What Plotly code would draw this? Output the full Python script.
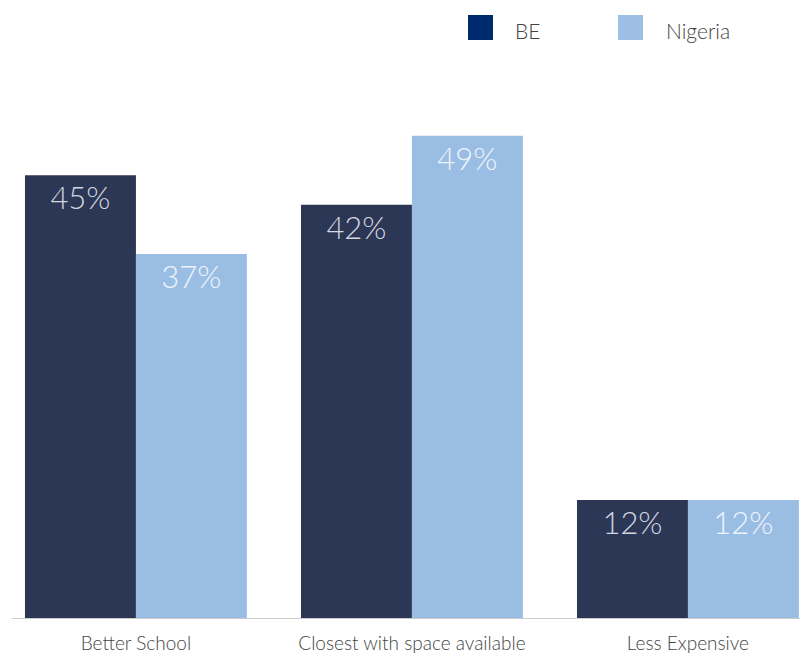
import plotly.graph_objects as go

categories = ["Better School", "Closest with space available", "Less Expensive"]
be_values = [45, 42, 12]
nigeria_values = [37, 49, 12]
series_names = ["BE", "Nigeria"]

bar_colors = ["#2c3655", "#9abde3"]
legend_colors = ["#002a6e", "#9dbfe4"]
text_colors = ["#d3d7e0", "#eef4fb"]

fig = go.Figure()
for name, vals, col, tcol in zip(series_names, [be_values, nigeria_values], bar_colors, text_colors):
    fig.add_trace(go.Bar(
        x=categories, y=vals, name=name,
        marker=dict(color=col, line=dict(width=0)),
        text=[f"{v}%" for v in vals],
        textposition="inside", insidetextanchor="end",
        textfont=dict(family="Lato", size=31, color=tcol, weight=300),
        constraintext="none", textangle=0,
        showlegend=False, hoverinfo="skip",
    ))

# Legend drawn manually (paper coordinates)
W, H = 800, 653
ml, mr, mt, mb = 12, 0, 126, 35
pw, ph = W - ml - mr, H - mt - mb
def px_x(x):
    return (x - ml) / pw
def px_y(y):
    return (H - mb - y) / ph

legend_pos = [(468, 513), (618, 664)]
for (sx, tx), name, col in zip(legend_pos, series_names, legend_colors):
    fig.add_shape(type="rect", xref="paper", yref="paper",
                  x0=px_x(sx), x1=px_x(sx + 25), y0=px_y(40), y1=px_y(15),
                  fillcolor=col, line=dict(width=0))
    fig.add_annotation(xref="paper", yref="paper", x=px_x(tx), y=px_y(30),
                       text=name, showarrow=False, xanchor="left", yanchor="middle",
                       font=dict(family="Lato", size=21, color="#444444", weight=300))

fig.update_layout(
    width=W, height=H,
    margin=dict(l=ml, r=mr, t=mt, b=mb),
    paper_bgcolor="white", plot_bgcolor="white",
    barmode="group", bargap=0.196, bargroupgap=0,
    xaxis=dict(range=[-0.449, 2.406], showline=True, linecolor="#cccccc", linewidth=1,
               ticks="", showgrid=False, ticklabelstandoff=8,
               tickfont=dict(family="Lato", size=19, color="#444444", weight=300)),
    yaxis=dict(range=[0, 50], visible=False, showgrid=False),
    showlegend=False,
)

fig.write_html("out.html", config={"displayModeBar": False},
               post_script="document.body.style.margin='0';")
